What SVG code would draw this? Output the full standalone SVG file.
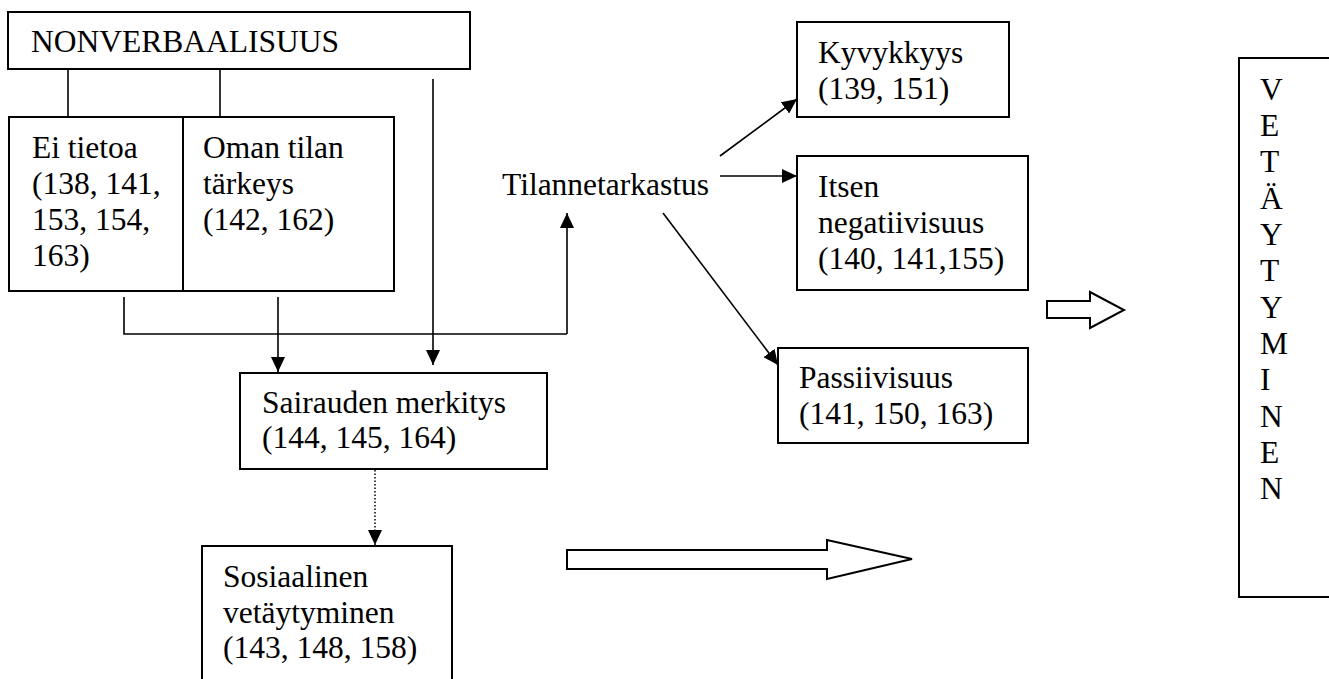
<svg xmlns="http://www.w3.org/2000/svg" width="1329" height="679" viewBox="0 0 1329 679">
<style>
text { font-family: "Liberation Serif", "Times New Roman", serif; font-size: 31.5px; fill: #000; }
.box { fill: #fff; stroke: #000; stroke-width: 2; }
.ln { fill: none; stroke: #000; stroke-width: 1.6; }
.dot { fill: none; stroke: #000; stroke-width: 1.5; stroke-dasharray: 1.5 2; }
.hollow { fill: #fff; stroke: #000; stroke-width: 2; stroke-linejoin: miter; }
</style>
<defs>
<marker id="ah" markerUnits="userSpaceOnUse" markerWidth="16" markerHeight="14" refX="15" refY="7" orient="auto">
<path d="M0,0 L15,7 L0,14 z" fill="#000"/>
</marker>
</defs>
<rect width="1329" height="679" fill="#fff"/>

<g id="connectors">
<line class="ln" x1="68" y1="69" x2="68" y2="127"/>
<line class="ln" x1="220" y1="69" x2="220" y2="127"/>
<line class="ln" x1="433" y1="79" x2="433" y2="365" marker-end="url(#ah)"/>
<line class="ln" x1="278" y1="297" x2="278" y2="372" marker-end="url(#ah)"/>
<polyline class="ln" points="124,297 124,334 567,334"/>
<line class="ln" x1="567" y1="334" x2="567" y2="213" marker-end="url(#ah)"/>
<line class="ln" x1="720" y1="156" x2="797" y2="99" marker-end="url(#ah)"/>
<line class="ln" x1="720" y1="176" x2="797" y2="176" marker-end="url(#ah)"/>
<line class="ln" x1="663" y1="213" x2="778" y2="365" marker-end="url(#ah)"/>
<line class="dot" x1="375" y1="470" x2="375" y2="545" marker-end="url(#ah)"/>
<path class="hollow" d="M567,550 L827,550 L827,540 L912,559 L827,579 L827,569 L567,569 Z"/>
<path class="hollow" d="M1047,301 L1090,301 L1090,292 L1124,310 L1090,328 L1090,318 L1047,318 Z"/>
</g>

<g id="node-nonverbaalisuus">
<rect class="box" x="8" y="12" width="462" height="57"/>
<text x="31" y="52">NONVERBAALISUUS</text>
</g>

<g id="node-ei-tietoa">
<rect class="box" x="9" y="117" width="174" height="174"/>
<text x="32" y="158">Ei tietoa</text>
<text x="32" y="194">(138, 141,</text>
<text x="32" y="230">153, 154,</text>
<text x="32" y="266">163)</text>
</g>

<g id="node-oman-tilan">
<rect class="box" x="183" y="117" width="211" height="174"/>
<text x="203" y="158">Oman tilan</text>
<text x="203" y="194">tärkeys</text>
<text x="203" y="230">(142, 162)</text>
</g>

<g id="node-sairauden">
<rect class="box" x="240" y="373" width="307" height="96"/>
<text x="262" y="413">Sairauden merkitys</text>
<text x="262" y="448">(144, 145, 164)</text>
</g>

<g id="node-sosiaalinen">
<rect class="box" x="202" y="546" width="250" height="150"/>
<text x="223" y="587">Sosiaalinen</text>
<text x="223" y="623">vetäytyminen</text>
<text x="223" y="658">(143, 148, 158)</text>
</g>

<g id="node-tilannetarkastus">
<text x="502" y="195">Tilannetarkastus</text>
</g>

<g id="node-kyvykkyys">
<rect class="box" x="797" y="22" width="212" height="95"/>
<text x="818" y="63">Kyvykkyys</text>
<text x="818" y="99">(139, 151)</text>
</g>

<g id="node-itsen">
<rect class="box" x="797" y="156" width="231" height="134"/>
<text x="818" y="197">Itsen</text>
<text x="818" y="233">negatiivisuus</text>
<text x="818" y="269">(140, 141,155)</text>
</g>

<g id="node-passiivisuus">
<rect class="box" x="778" y="348" width="250" height="95"/>
<text x="799" y="388">Passiivisuus</text>
<text x="799" y="424">(141, 150, 163)</text>
</g>

<g id="node-vetaytyminen">
<rect class="box" x="1239" y="58" width="110" height="539" stroke-width="2.5"/>
<text x="1260" y="100">V</text>
<text x="1260" y="136">E</text>
<text x="1260" y="172">T</text>
<text x="1260" y="209">Ä</text>
<text x="1260" y="245">Y</text>
<text x="1260" y="281">T</text>
<text x="1260" y="318">Y</text>
<text x="1260" y="354">M</text>
<text x="1260" y="390">I</text>
<text x="1260" y="427">N</text>
<text x="1260" y="463">E</text>
<text x="1260" y="499">N</text>
</g>
</svg>
